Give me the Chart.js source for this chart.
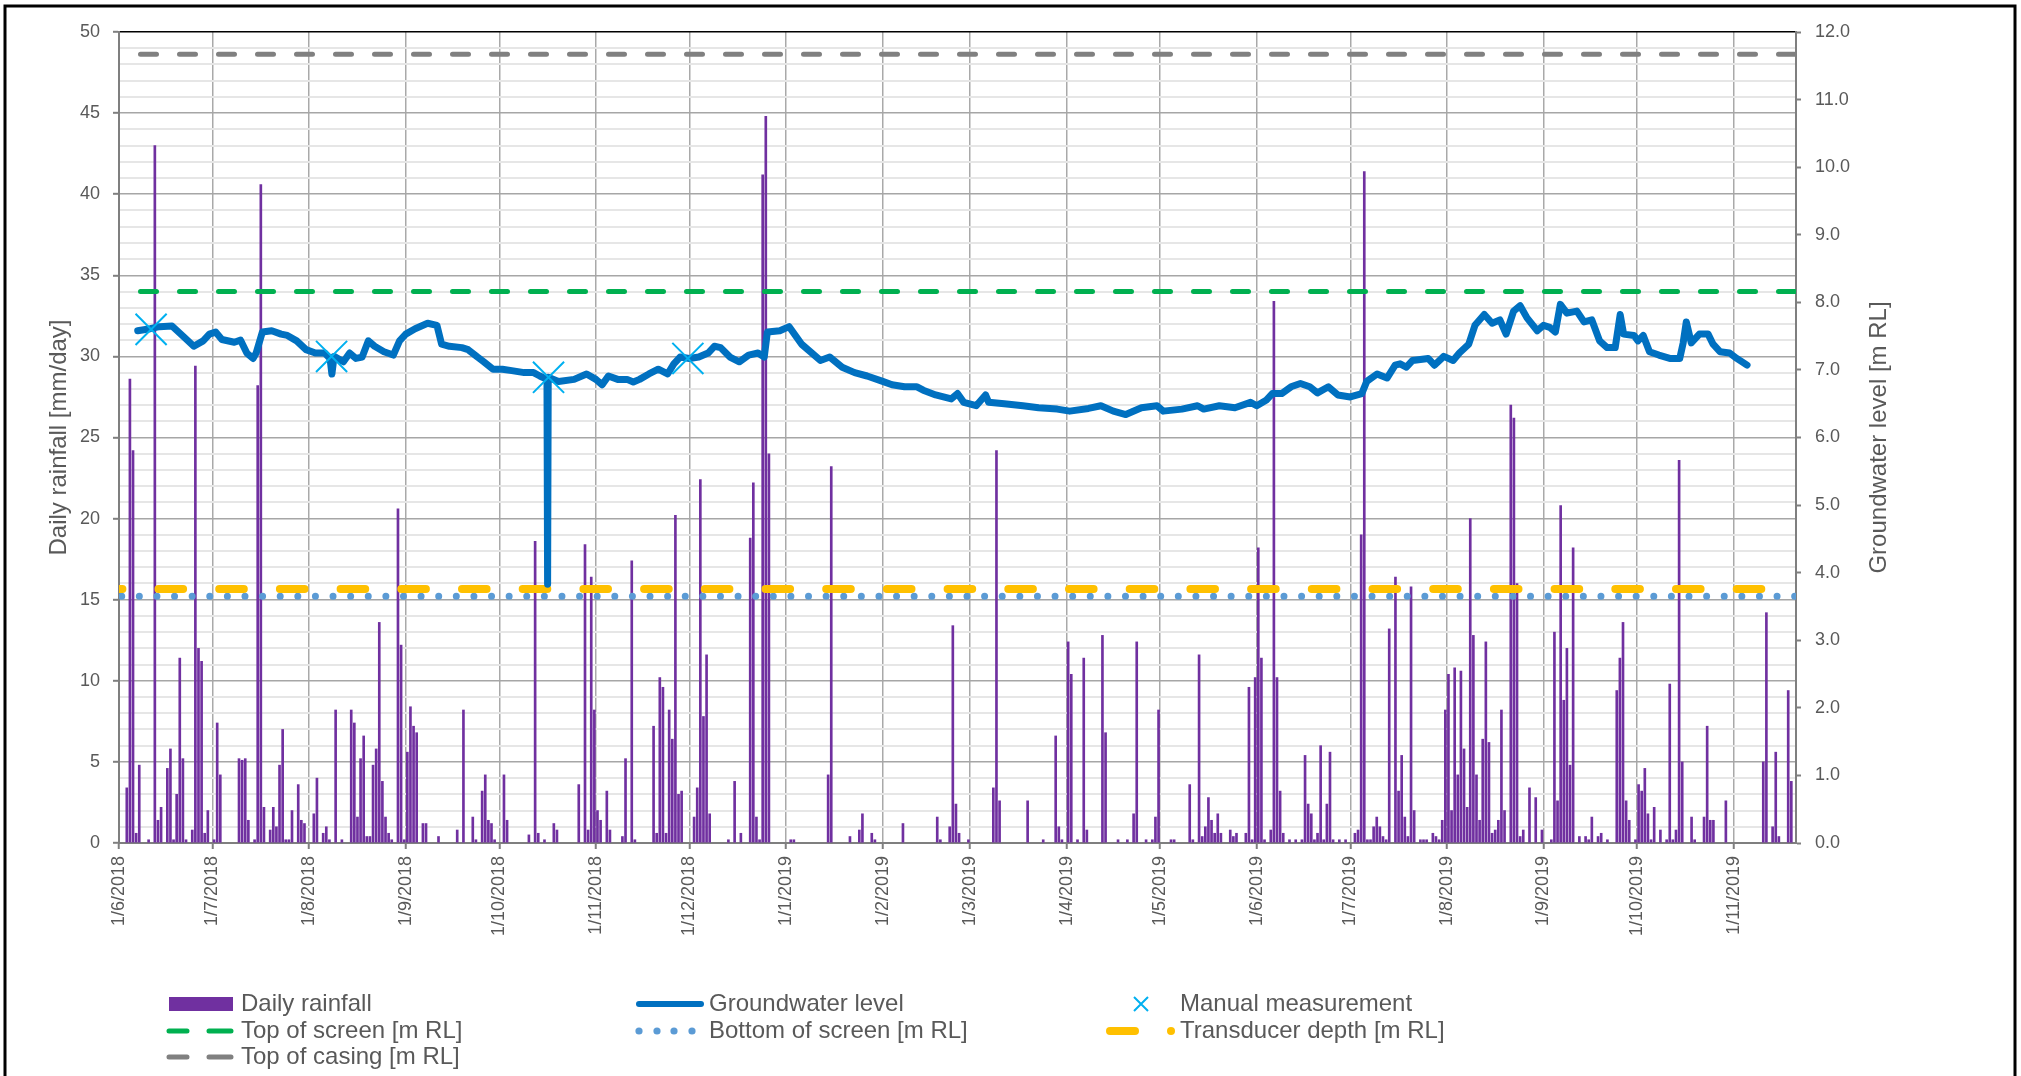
<!DOCTYPE html>
<html>
<head>
<meta charset="utf-8">
<script src="https://cdn.jsdelivr.net/npm/chart.js@4.4.1/dist/chart.umd.min.js"></script>
<style>
  html, body { margin: 0; padding: 0; background: #fff; }
  #wrap { width: 2021px; height: 1076px; }
  canvas { display: block; }
</style>
</head>
<body>
<div id="wrap"><canvas id="gw-chart" width="2021" height="1076"></canvas></div>
<script>
// days counted from 1/6/2018 (day 0)
const tickDays = [0, 30, 61, 92, 122, 153, 183, 214, 245, 273, 304, 334, 365, 395, 426, 457, 487, 518];
const tickLabels = ["1/6/2018", "1/7/2018", "1/8/2018", "1/9/2018", "1/10/2018", "1/11/2018", "1/12/2018",
    "1/1/2019", "1/2/2019", "1/3/2019", "1/4/2019", "1/5/2019", "1/6/2019", "1/7/2019", "1/8/2019",
    "1/9/2019", "1/10/2019", "1/11/2019"];
const lastDay = 538;

// daily rainfall [mm/day]
const rainDay = [2, 3, 4, 5, 6, 9, 11, 12, 13, 15, 16, 17, 18, 19, 20, 21, 23, 24, 25, 26, 27, 28, 30,
    31, 32, 38, 39, 40, 41, 43, 44, 45, 46, 48, 49, 50, 51, 52, 53, 54, 55, 57, 58, 59,
    62, 63, 65, 66, 67, 69, 71, 74, 75, 76, 77, 78, 79, 80, 81, 82, 83, 84, 85, 86, 87, 89, 90, 91,
    92, 93, 94, 95, 97, 98, 102, 108, 110, 113, 114, 116, 117, 118, 119, 120,
    123, 124, 131, 133, 134, 136, 139, 140, 147, 149, 150, 151, 152,
    153, 154, 156, 157, 161, 162, 164, 165, 171, 172, 173, 174, 175, 176, 177, 178, 179, 180,
    184, 185, 186, 187, 188, 189, 195, 197, 199, 202, 203, 204, 205, 206, 207, 208,
    215, 216, 227, 228, 234, 237, 238, 241, 242,
    251, 262, 263, 266, 267, 268, 269, 272,
    280, 281, 282, 291, 296, 300, 301, 302,
    304, 305, 307, 309, 310, 315, 316, 320, 323, 325, 326, 329, 331, 332, 333,
    337, 338, 343, 344, 346, 347, 348, 349, 350, 351, 352, 353, 356, 357, 358, 361, 362, 363, 364,
    365, 366, 367, 369, 370, 371, 372, 373, 375, 377, 379, 380, 381, 382, 383, 384, 385, 386, 387, 388, 389, 391, 393,
    396, 397, 398, 399, 400, 401, 402, 403, 404, 405, 406, 407, 409, 410, 411, 412, 413, 414, 415, 417, 418, 419, 421, 422, 423, 424, 425,
    426, 427, 428, 429, 430, 431, 432, 433, 434, 435, 436, 437, 438, 439, 440, 441, 442, 443, 444, 446, 447, 448, 449, 450, 452, 454, 456,
    459, 460, 461, 462, 463, 464, 465, 466, 468, 470, 471, 472, 474, 475, 477, 480, 481, 482, 483, 484, 486,
    487, 488, 489, 490, 491, 492, 494, 496, 497, 498, 499, 500, 501, 504, 505, 508, 509, 510, 511, 515,
    527, 528, 530, 531, 532, 535, 536];
const rainMm = [3.4, 28.6, 24.2, 0.6, 4.8, 0.2, 43.0, 1.4, 2.2, 4.6, 5.8, 0.2, 3.0, 11.4, 5.2, 0.2, 0.8, 29.4, 12.0, 11.2, 0.6, 2.0, 0.2,
    7.4, 4.2, 5.2, 5.1, 5.2, 1.4, 0.2, 28.2, 40.6, 2.2, 0.8, 2.2, 1.0, 4.8, 7.0, 0.2, 0.2, 2.0, 3.6, 1.4, 1.2,
    1.8, 4.0, 0.6, 1.0, 0.2, 8.2, 0.2, 8.2, 7.4, 1.6, 5.2, 6.6, 0.4, 0.4, 4.8, 5.8, 13.6, 3.8, 1.6, 0.6, 0.2, 20.6, 12.2, 0.2,
    5.6, 8.4, 7.2, 6.8, 1.2, 1.2, 0.4, 0.8, 8.2, 1.6, 0.2, 3.2, 4.2, 1.4, 1.2, 0.2,
    4.2, 1.4, 0.5, 18.6, 0.6, 0.2, 1.2, 0.8, 3.6, 18.4, 0.8, 16.4, 8.2,
    2.0, 1.4, 3.2, 0.8, 0.4, 5.2, 17.4, 0.2, 7.2, 0.6, 10.2, 9.6, 0.6, 8.2, 6.4, 20.2, 3.0, 3.2,
    1.6, 3.4, 22.4, 7.8, 11.6, 1.8, 0.2, 3.8, 0.6, 18.8, 22.2, 1.6, 0.2, 41.2, 44.8, 24.0,
    0.2, 0.2, 4.2, 23.2, 0.4, 0.8, 1.8, 0.6, 0.2,
    1.2, 1.6, 0.2, 1.0, 13.4, 2.4, 0.6, 0.2,
    3.4, 24.2, 2.6, 2.6, 0.2, 6.6, 1.0, 0.2,
    12.4, 10.4, 0.2, 11.4, 0.8, 12.8, 6.8, 0.2, 0.2, 1.8, 12.4, 0.2, 0.2, 1.6, 8.2,
    0.2, 0.2, 3.6, 0.2, 11.6, 0.4, 1.0, 2.8, 1.4, 0.6, 1.8, 0.6, 0.8, 0.4, 0.6, 0.6, 9.6, 0.2, 10.2,
    18.2, 11.4, 0.2, 0.8, 33.4, 10.2, 3.2, 0.6, 0.2, 0.2, 0.2, 5.4, 2.4, 1.8, 0.2, 0.6, 6.0, 0.2, 2.4, 5.6, 0.2, 0.2, 0.2,
    0.6, 0.8, 19.0, 41.4, 0.2, 0.2, 1.0, 1.6, 1.0, 0.4, 0.2, 13.2, 16.4, 3.2, 5.4, 1.6, 0.4, 15.8, 2.0, 0.2, 0.2, 0.2, 0.6, 0.4, 0.2, 1.4, 8.2,
    10.4, 2.0, 10.8, 4.2, 10.6, 5.8, 2.2, 20.0, 12.8, 4.2, 1.4, 6.4, 12.4, 6.2, 0.6, 0.8, 1.4, 8.2, 2.0, 27.0, 26.2, 16.0, 0.4, 0.8, 3.4, 2.8, 0.8,
    0.2, 13.0, 2.6, 20.8, 8.8, 12.0, 4.8, 18.2, 0.4, 0.4, 0.2, 1.6, 0.4, 0.6, 0.2, 9.4, 11.4, 13.6, 2.6, 1.4, 0.2,
    3.6, 3.2, 4.6, 1.8, 0.2, 2.2, 0.8, 0.2, 9.8, 0.2, 0.8, 23.6, 5.0, 1.6, 0.2, 1.6, 7.2, 1.4, 1.4, 2.6,
    5.0, 14.2, 1.0, 5.6, 0.4, 9.4, 3.8];

// groundwater level [m RL]
const gwDay = [6, 10, 13, 17, 21, 24, 27, 29, 31, 33, 37, 39, 41, 43, 44, 46, 49, 52, 54, 57, 60, 63, 66, 67.7, 68.3, 69,
    72, 74, 76, 78, 80, 82, 85, 88, 90, 92, 95, 99, 102, 103.5, 106, 110, 112, 115, 117, 120, 123, 126, 130, 133, 135,
    137.3, 137.5, 137.7, 141, 146, 150, 153, 155, 157, 160, 163, 165, 167, 170, 173, 176, 178, 180, 183, 186, 189, 191,
    193, 196, 199, 202, 205, 207, 208, 212, 215, 219, 225, 228, 232, 236, 240, 245, 248, 252, 256, 258, 262, 267, 269,
    271, 275, 278, 279, 284, 290, 295, 301, 305, 311, 315, 319, 323, 328, 333, 335, 341, 346, 348, 353, 358, 363, 365,
    368, 370, 373, 376, 379, 382, 384.5, 388, 391, 395, 398.7, 400.3, 403.6, 406.8, 409.4, 411, 413, 415, 420, 422, 425,
    428, 430, 433, 435, 438, 440.5, 443, 445, 447.4, 449.5, 451.7, 455, 457, 459, 460.8, 462.4, 464.5, 467.7, 470, 472.5,
    475, 477.4, 480, 481.6, 482.7, 486, 487.3, 489, 491, 494, 497.5, 500.7, 501.8, 502.8, 504.4, 507, 509.8, 511.4,
    513.6, 516.7, 519, 522.3];
const gwLevel = [7.58, 7.61, 7.64, 7.65, 7.48, 7.35, 7.43, 7.53, 7.56, 7.45, 7.41, 7.44, 7.25, 7.17, 7.25, 7.56, 7.58, 7.53,
    7.51, 7.43, 7.30, 7.25, 7.25, 7.17, 6.94, 7.20,
    7.12, 7.25, 7.17, 7.19, 7.43, 7.35, 7.27, 7.22, 7.43, 7.53, 7.61, 7.69, 7.66, 7.38, 7.35, 7.33, 7.30, 7.19, 7.12, 7.01,
    7.01, 6.99, 6.96, 6.96, 6.91,
    6.86, 3.83, 6.89, 6.83, 6.86, 6.94, 6.86, 6.78, 6.91, 6.86, 6.86, 6.82, 6.86, 6.94, 7.01, 6.94, 7.09, 7.19, 7.17, 7.19,
    7.25, 7.35,
    7.33, 7.19, 7.12, 7.22, 7.25, 7.19, 7.56, 7.58, 7.64, 7.38, 7.14, 7.19, 7.04, 6.96, 6.91, 6.83, 6.78, 6.75, 6.75, 6.70,
    6.63, 6.57, 6.65,
    6.52, 6.47, 6.63, 6.52, 6.50, 6.47, 6.44, 6.42, 6.39, 6.43, 6.47, 6.39, 6.34, 6.44, 6.47, 6.39, 6.42, 6.47, 6.42, 6.47,
    6.44, 6.52, 6.47,
    6.55, 6.65, 6.65, 6.75, 6.80, 6.75, 6.66, 6.75, 6.63, 6.60, 6.65, 6.83, 6.94, 6.88, 7.07, 7.09, 7.04, 7.14, 7.17, 7.07,
    7.20,
    7.14, 7.25, 7.38, 7.66, 7.82, 7.69, 7.74, 7.53, 7.87, 7.95, 7.77, 7.58, 7.66, 7.63, 7.56, 7.97, 7.84, 7.87, 7.71, 7.74,
    7.43, 7.33, 7.33, 7.82, 7.53, 7.51, 7.43, 7.51, 7.27, 7.22, 7.17, 7.17, 7.40, 7.71, 7.40, 7.53, 7.53, 7.38,
    7.27, 7.25, 7.17, 7.07];

// manual dip measurements
const manualDay = [10.3, 68.2, 137.8, 182.5];
const manualLevel = [7.60, 7.20, 6.89, 7.17];

// reference levels [m RL]
const topOfCasing = 11.67;
const topOfScreen = 8.16;
const bottomOfScreen = 3.65;
const transducerDepth = 3.76;

const FONT = "'Liberation Sans', Arial, Helvetica, sans-serif";
const TEXT = '#595959';
Chart.defaults.font.family = FONT;
Chart.defaults.color = TEXT;

function flatLine(level) {
    return [{x: 0, y: level}, {x: lastDay, y: level}];
}

const framePlugin = {
    id: 'frame',
    beforeDraw(chart) {
        const c = chart.ctx;
        c.save();
        c.fillStyle = '#fff';
        c.fillRect(0, 0, chart.width, chart.height);
        c.restore();
    },
    afterDraw(chart) {
        const c = chart.ctx;
        c.save();
        // outer frame
        c.strokeStyle = '#000';
        c.lineWidth = 3;
        c.strokeRect(5, 6, 2010, 1080);

        // right axis title, reading upwards
        c.fillStyle = TEXT;
        c.font = '24px ' + FONT;
        c.textAlign = 'center';
        c.textBaseline = 'middle';
        const a = chart.chartArea;
        c.translate(1879, (a.top + a.bottom) / 2);
        c.rotate(-Math.PI / 2);
        c.fillText('Groundwater level [m RL]', 0, 0);
        c.restore();
    }
};

const legendPlugin = {
    id: 'sheetLegend',
    afterDraw(chart) {
        const c = chart.ctx;
        const r1 = 1004, r2 = 1031, r3 = 1057;
        c.save();
        c.lineCap = 'round';

        // daily rainfall
        c.fillStyle = '#7030A0';
        c.fillRect(169, r1 - 7, 64, 14);
        // top of screen / top of casing
        c.lineWidth = 5;
        [[r2, '#00B050'], [r3, '#808080']].forEach(([y, col]) => {
            c.strokeStyle = col;
            c.beginPath();
            c.moveTo(169, y); c.lineTo(187, y);
            c.moveTo(209, y); c.lineTo(231, y);
            c.stroke();
        });
        // groundwater level
        c.strokeStyle = '#0070C0';
        c.lineWidth = 6;
        c.beginPath(); c.moveTo(639, r1); c.lineTo(701, r1); c.stroke();
        // bottom of screen dots
        c.fillStyle = '#5B9BD5';
        [639, 657, 674, 692].forEach(x => {
            c.beginPath(); c.arc(x, r2, 3.6, 0, Math.PI * 2); c.fill();
        });
        // manual measurement cross
        c.strokeStyle = '#00B0F0';
        c.lineWidth = 2;
        c.lineCap = 'butt';
        c.beginPath();
        c.moveTo(1134, r1 - 7); c.lineTo(1148, r1 + 7);
        c.moveTo(1148, r1 - 7); c.lineTo(1134, r1 + 7);
        c.stroke();
        // transducer depth
        c.lineCap = 'round';
        c.strokeStyle = '#FFC000';
        c.lineWidth = 8;
        c.beginPath(); c.moveTo(1110, r2); c.lineTo(1135, r2); c.stroke();
        c.fillStyle = '#FFC000';
        c.beginPath(); c.arc(1171, r2, 4, 0, Math.PI * 2); c.fill();

        c.fillStyle = TEXT;
        c.font = '24px ' + FONT;
        c.textAlign = 'left';
        c.textBaseline = 'middle';
        c.fillText('Daily rainfall', 241, r1);
        c.fillText('Top of screen [m RL]', 241, r2);
        c.fillText('Top of casing [m RL]', 241, r3);
        c.fillText('Groundwater level', 709, r1);
        c.fillText('Bottom of screen [m RL]', 709, r2);
        c.fillText('Manual measurement', 1180, r1);
        c.fillText('Transducer depth [m RL]', 1180, r2);
        c.restore();
    }
};

new Chart(document.getElementById('gw-chart'), {
    type: 'bar',
    data: {
        datasets: [
            {
                type: 'bar',
                label: 'Daily rainfall',
                data: rainDay.map((d, i) => ({x: d + 0.5, y: rainMm[i]})),
                backgroundColor: '#7030A0',
                barThickness: 2,
                yAxisID: 'y',
                order: 10
            },
            {
                type: 'line',
                label: 'Groundwater level',
                data: gwDay.map((d, i) => ({x: d, y: gwLevel[i]})),
                borderColor: '#0070C0',
                borderWidth: 7,
                borderJoinStyle: 'round',
                borderCapStyle: 'round',
                pointRadius: 0,
                tension: 0,
                yAxisID: 'y1',
                order: 2
            },
            {
                type: 'line',
                label: 'Manual measurement',
                data: manualDay.map((d, i) => ({x: d, y: manualLevel[i]})),
                showLine: false,
                pointStyle: 'crossRot',
                pointRadius: 22,
                pointBorderWidth: 2,
                borderColor: '#00B0F0',
                backgroundColor: '#00B0F0',
                yAxisID: 'y1',
                order: 1
            },
            {
                type: 'line',
                label: 'Top of screen [m RL]',
                data: flatLine(topOfScreen),
                borderColor: '#00B050',
                borderWidth: 5,
                borderDash: [16, 23],
                borderDashOffset: 17.5,
                borderCapStyle: 'round',
                pointRadius: 0,
                yAxisID: 'y1',
                order: 4
            },
            {
                type: 'line',
                label: 'Bottom of screen [m RL]',
                data: flatLine(bottomOfScreen),
                borderColor: '#5B9BD5',
                borderWidth: 7,
                borderDash: [0.01, 17.6],
                borderDashOffset: 14.9,
                borderCapStyle: 'round',
                pointRadius: 0,
                yAxisID: 'y1',
                order: 5
            },
            {
                type: 'line',
                label: 'Transducer depth [m RL]',
                data: flatLine(transducerDepth),
                borderColor: '#FFC000',
                borderWidth: 8,
                borderDash: [24.6, 36.1],
                borderDashOffset: 21.2,
                borderCapStyle: 'round',
                pointRadius: 0,
                yAxisID: 'y1',
                order: 3
            },
            {
                type: 'line',
                label: 'Top of casing [m RL]',
                data: flatLine(topOfCasing),
                borderColor: '#808080',
                borderWidth: 5,
                borderDash: [16, 23],
                borderDashOffset: 17.5,
                borderCapStyle: 'round',
                pointRadius: 0,
                yAxisID: 'y1',
                order: 6
            }
        ]
    },
    options: {
        responsive: false,
        animation: false,
        layout: {padding: {top: 32, left: 0, right: 0, bottom: 0}},
        plugins: {
            legend: {display: false},
            tooltip: {enabled: false}
        },
        scales: {
            x: {
                type: 'linear',
                position: 'bottom',
                min: 0,
                max: lastDay,
                offset: false,
                afterBuildTicks: s => { s.ticks = tickDays.map(v => ({value: v})); },
                afterFit: s => { s.height = 233; },
                ticks: {
                    autoSkip: false,
                    minRotation: 90,
                    maxRotation: 90,
                    padding: 7,
                    color: TEXT,
                    font: {size: 18},
                    callback: (v, i) => tickLabels[i]
                },
                grid: {
                    offset: false,
                    color: '#a9a9a9',
                    lineWidth: 1.5,
                    tickLength: 6,
                    tickColor: '#7f7f7f',
                    tickWidth: 2
                },
                border: {color: '#7f7f7f', width: 2}
            },
            y: {
                position: 'left',
                min: 0,
                max: 50,
                afterFit: s => { s.width = 119; },
                ticks: {
                    stepSize: 1,
                    autoSkip: false,
                    padding: 13,
                    color: TEXT,
                    font: {size: 18},
                    callback: v => (v % 5 === 0 ? v : '')
                },
                grid: {
                    color: ctx => {
                        const v = ctx.tick.value;
                        if (v === 50) return '#000';
                        if (v === 0) return '#7f7f7f';
                        return v % 5 === 0 ? '#a6a6a6' : '#e6e6e6';
                    },
                    lineWidth: ctx => (ctx.tick.value % 5 === 0 ? 1.6 : 2),
                    tickLength: 6,
                    tickWidth: 2,
                    tickColor: ctx => (ctx.tick.value % 5 === 0 ? '#7f7f7f' : 'rgba(0,0,0,0)')
                },
                border: {color: '#7f7f7f', width: 2},
                title: {
                    display: true,
                    text: 'Daily rainfall [mm/day]',
                    color: TEXT,
                    font: {size: 24},
                    padding: {top: 45, bottom: 0}
                }
            },
            y1: {
                position: 'right',
                min: 0,
                max: 12,
                afterFit: s => { s.width = 225; },
                ticks: {
                    stepSize: 1,
                    autoSkip: false,
                    padding: 14,
                    color: TEXT,
                    font: {size: 18},
                    callback: v => v.toFixed(1)
                },
                grid: {
                    drawOnChartArea: false,
                    tickLength: 5,
                    tickWidth: 2,
                    tickColor: '#7f7f7f'
                },
                border: {color: '#7f7f7f', width: 2}
            }
        }
    },
    plugins: [framePlugin, legendPlugin]
});
</script>
</body>
</html>
